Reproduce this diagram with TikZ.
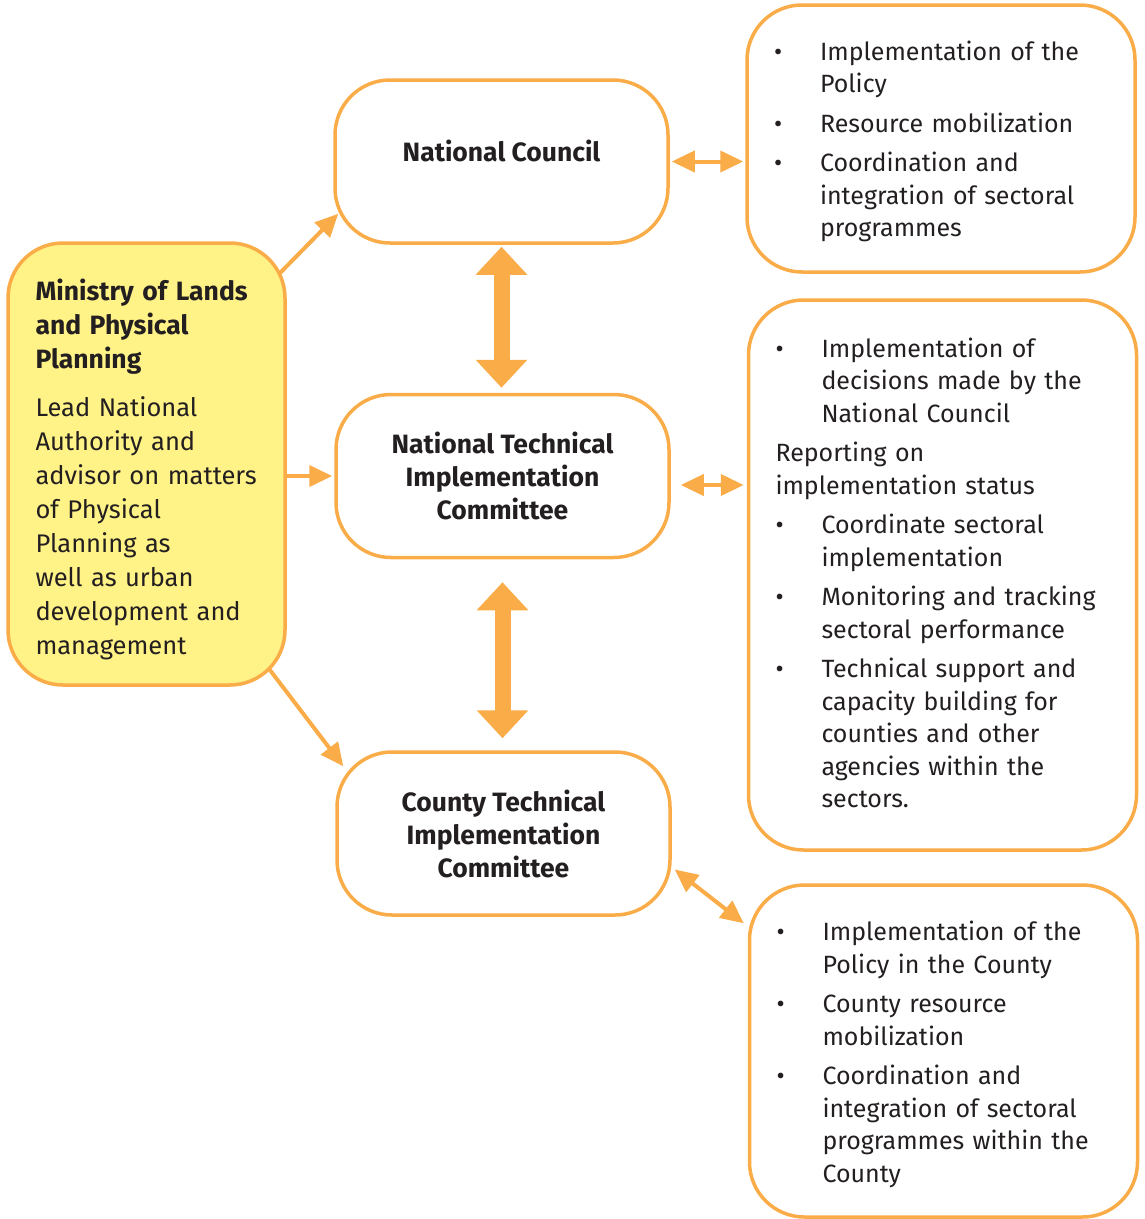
\documentclass[tikz,border=0pt]{standalone}
\usepackage{fontspec}
\setmainfont{Fira Sans}
\usetikzlibrary{arrows.meta,calc}

\definecolor{lineorange}{RGB}{250,172,72}
\definecolor{minyellow}{RGB}{255,242,135}
\definecolor{inkgray}{RGB}{35,31,32}

% bullet line with hanging indent
\newcommand{\bitem}[1]{\par\begingroup\let\\\newline\hangindent=46pt\hangafter=1%
  \noindent\makebox[46pt][l]{\textbullet}#1\par\endgroup}

\tikzset{
  box/.style={draw=lineorange, line width=3.5pt, rounded corners=55pt, text=inkgray},
  midbox/.style={box, minimum width=333pt, minimum height=163pt, align=center,
    font=\fontsize{26.5}{33}\selectfont\bfseries},
  listbox/.style={box, text width=334pt, inner xsep=27pt, align=left,
    font=\fontsize{25}{32.5}\selectfont\setlength{\parskip}{7pt}},
  thin/.style={draw=lineorange, line width=4pt, -{Triangle[width=21pt,length=23pt]}},
  both/.style={draw=lineorange, line width=4pt, {Triangle[width=21pt,length=23pt]}-{Triangle[width=21pt,length=23pt]}},
  fat/.style={draw=lineorange, line width=16pt, {Triangle[width=50pt,length=28pt]}-{Triangle[width=50pt,length=28pt]}}
}

\begin{document}
\begin{tikzpicture}[x=1pt,y=-1pt]

    \useasboundingbox (0,0) rectangle (1144,1219);

    % ministry
    \node[box, fill=minyellow, minimum height=442pt, text width=222pt, inner xsep=27.5pt,
          align=left, font=\fontsize{25.5}{34}\selectfont] (min) at (146.5,464)
      {{\fontsize{26.5}{34}\selectfont\bfseries Ministry of Lands\\ and Physical\\ Planning}\\[14pt]
       Lead National\\ Authority and\\ advisor on matters\\ of Physical\\
       Planning as\\ well as urban\\ development and\\ management\par\vspace{-10pt}};

    % committees
    \node[midbox] (nc) at (501.5,161.5) {\raisebox{10.5pt}[\height][\depth]{National Council}};
    \node[midbox] (ntic) at (502.5,476) {National Technical\\ Implementation\\ Committee};
    \node[midbox] (ctic) at (503.5,833.5) {County Technical\\ Implementation\\ Committee};

    % roles
    \node[listbox, minimum height=267pt] (rnc) at (941,138.5) {%
      \bitem{Implementation of the\\ Policy}
      \bitem{Resource mobilization}
      \bitem{Coordination and\\ integration of sectoral\\ programmes}\vspace{14pt}};
    \node[listbox, minimum height=550pt] (rntic) at (942.5,575) {%
      \bitem{Implementation of\\ decisions made by the\\ National Council}
      \noindent Reporting on\\ implementation status\par
      \bitem{Coordinate sectoral\\ implementation}
      \bitem{Monitoring and tracking\\ sectoral performance}
      \bitem{Technical support and\\ capacity building for\\ counties and other\\ agencies within the\\ sectors.}\vspace{24pt}};
    \node[listbox, minimum height=332pt] (rctic) at (943.5,1051) {%
      \bitem{Implementation of the\\ Policy in the County}
      \bitem{County resource\\ mobilization}
      \bitem{Coordination and\\ integration of sectoral\\ programmes within the\\ County}\vspace{13pt}};

    % arrows from the ministry
    \draw[thin] ([xshift=-7pt,yshift=-32pt]min.north east) -- ([xshift=5pt,yshift=31pt]nc.south west);
    \draw[thin] (min.east |- ntic.west) -- ([xshift=-2pt]ntic.west);
    \draw[thin] ([xshift=-17pt,yshift=17pt]min.south east) -- ([xshift=8pt,yshift=-16pt]ctic.north west);

    % arrows to the roles
    \draw[both] ([xshift=2pt]nc.east) -- ([xshift=-2pt]nc.east -| rnc.west);
    \draw[both] ([xshift=10pt,yshift=-9pt]ntic.east) -- ([xshift=-3pt,yshift=-9pt]ntic.east -| rntic.west);
    \draw[both] ([xshift=3pt,yshift=-36pt]ctic.east) -- ([xshift=-4pt,yshift=-40pt]rctic.north west);

    % levels
    \draw[fat, shorten <=2pt, shorten >=5pt] (nc.south) -- (nc.south |- ntic.north);
    \draw[fat, shorten <=23pt, shorten >=12pt] (ntic.south) -- (ntic.south |- ctic.north);

\end{tikzpicture}
\end{document}
